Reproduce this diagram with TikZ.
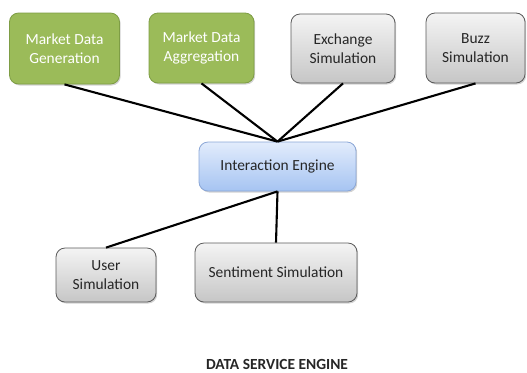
\documentclass[tikz,border=0pt]{standalone}
\usepackage{fontspec}
\setmainfont{Carlito}
\usetikzlibrary{shadows}
\definecolor{olivefill}{HTML}{9BBB59}
\definecolor{oliveedge}{HTML}{7E9D45}
\definecolor{greytop}{HTML}{F4F4F4}
\definecolor{greybot}{HTML}{C6C6C6}
\definecolor{greyedge}{HTML}{5A5A5A}
\definecolor{bluetop}{HTML}{E2ECFC}
\definecolor{bluebot}{HTML}{A6C4F2}
\definecolor{blueedge}{HTML}{8AA6D6}
\definecolor{textgrey}{HTML}{262626}
\tikzset{
  box/.style={rectangle, rounded corners=9bp, align=center, inner sep=2bp,
    font=\fontsize{15.5}{18.5}\selectfont,
    drop shadow={shadow xshift=1.2bp, shadow yshift=-1.5bp, opacity=0.35}},
  greenbox/.style={box, fill=olivefill, draw=oliveedge, line width=0.8bp, text=white},
  greybox/.style={box, top color=greytop, bottom color=greybot, draw=greyedge, line width=0.8bp, text=textgrey},
  bluebox/.style={box, top color=bluetop, bottom color=bluebot, draw=blueedge, line width=0.8bp, text=textgrey},
  link/.style={line width=2.1bp, black}
}
\begin{document}
\begin{tikzpicture}[x=1bp, y=-1bp]
\useasboundingbox (0,0) rectangle (527,372);
% top row
\node[greenbox, minimum width=110bp, minimum height=71bp] (gen) at (64.5,48.5) {Market Data\\Generation};
\node[greenbox, minimum width=105bp, minimum height=70bp] (agg) at (201.5,48) {Market Data\\Aggregation};
\node[greybox, minimum width=104bp, minimum height=69bp] (exch) at (343,48.5) {Exchange\\Simulation};
\node[greybox, minimum width=99bp, minimum height=70bp] (buzz) at (475.5,48) {Buzz\\Simulation};
% hub
\node[bluebox, minimum width=157bp, minimum height=49bp] (eng) at (277.5,166.5) {Interaction Engine};
% bottom row
\node[greybox, minimum width=100bp, minimum height=54bp] (user) at (106,275) {User\\Simulation};
\node[greybox, minimum width=162bp, minimum height=59bp] (sent) at (276,272.5) {Sentiment Simulation};
% caption
\node[font=\fontsize{15.5}{18}\selectfont\bfseries, text=textgrey, anchor=base, inner sep=0pt] (title) at (277,369) {DATA SERVICE ENGINE};
% connectors
\draw[link] (gen.south) -- (eng.north);
\draw[link] (agg.south) -- (eng.north);
\draw[link] (exch.south) -- (eng.north);
\draw[link] (buzz.south) -- (eng.north);
\draw[link] (eng.south) -- (user.north);
\draw[link] (eng.south) -- (sent.north);
\end{tikzpicture}
\end{document}
